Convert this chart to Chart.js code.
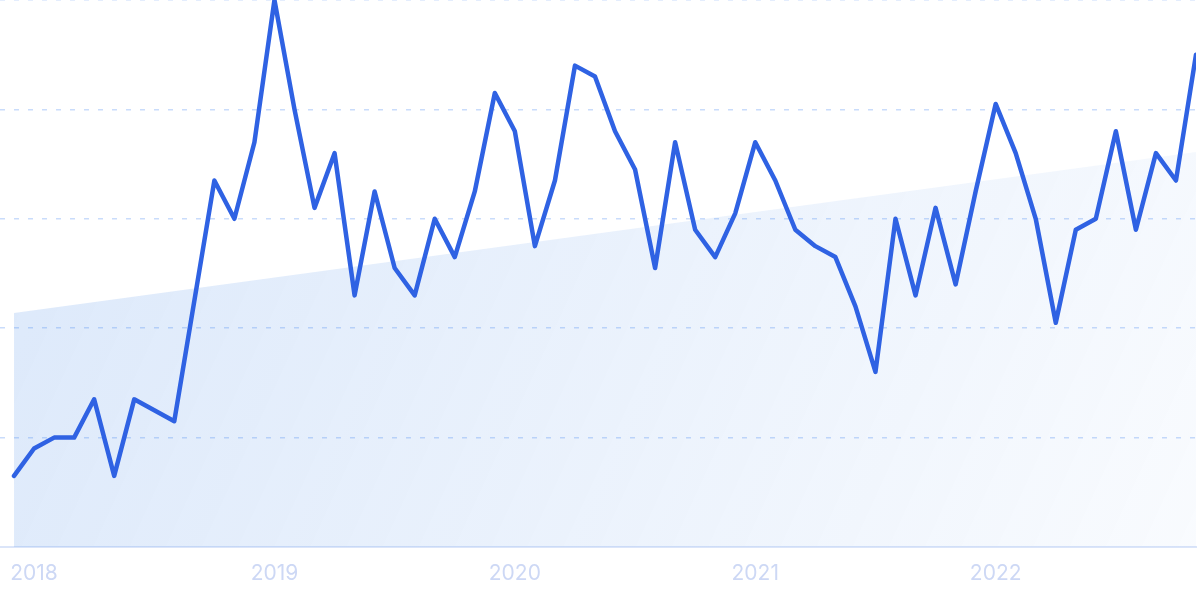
<!DOCTYPE html>
<html>
<head>
<meta charset="utf-8">
<script src="https://cdn.jsdelivr.net/npm/chart.js@4"></script>
<style>
  html, body { margin: 0; padding: 0; background: #fff; }
  #wrap { width: 1200px; height: 600px; position: relative; }
</style>
</head>
<body>
<div id="wrap"><canvas id="chart"></canvas></div>
<script>
// monthly points, Dec 2017 .. Nov 2022
const months = [
    '2017-12',
    '2018-01', '2018-02', '2018-03', '2018-04', '2018-05', '2018-06', '2018-07', '2018-08', '2018-09', '2018-10', '2018-11', '2018-12',
    '2019-01', '2019-02', '2019-03', '2019-04', '2019-05', '2019-06', '2019-07', '2019-08', '2019-09', '2019-10', '2019-11', '2019-12',
    '2020-01', '2020-02', '2020-03', '2020-04', '2020-05', '2020-06', '2020-07', '2020-08', '2020-09', '2020-10', '2020-11', '2020-12',
    '2021-01', '2021-02', '2021-03', '2021-04', '2021-05', '2021-06', '2021-07', '2021-08', '2021-09', '2021-10', '2021-11', '2021-12',
    '2022-01', '2022-02', '2022-03', '2022-04', '2022-05', '2022-06', '2022-07', '2022-08', '2022-09', '2022-10', '2022-11'
];

const interest = [
    13,
    18, 20, 20, 27, 13, 27, 25, 23, 45, 67, 60, 74,
    100, 80, 62, 72, 46, 65, 51, 46, 60, 53, 65, 83,
    76, 55, 67, 88, 86, 76, 69, 51, 74, 58, 53, 61,
    74, 67, 58, 55, 53, 44, 32, 60, 46, 62, 48, 65,
    81, 72, 60, 41, 58, 60, 76, 58, 72, 67, 90
];

// linear trend, start and end values
const trendStart = 42.8;
const trendEnd = 72.2;

const yTicks = [0, 20, 40, 60, 80, 100];

const lineData = interest.map((v, i) => ({ x: i, y: v }));
const trendData = [
    { x: 0, y: trendStart },
    { x: months.length - 1, y: trendEnd }
];

function trendFill(context) {
    const chart = context.chart;
    const area = chart.chartArea;
    if (!area) return 'rgba(59,130,230,0.15)';
    const g = chart.ctx.createLinearGradient(area.left, area.top, area.right, area.bottom);
    g.addColorStop(0, 'rgba(59,130,230,0.19)');
    g.addColorStop(1, 'rgba(59,130,230,0.03)');
    return g;
}

new Chart(document.getElementById('chart'), {
    type: 'line',
    data: {
        datasets: [{
            label: 'Interest',
            data: lineData,
            borderColor: '#2f62e3',
            borderWidth: 4.5,
            pointRadius: 0,
            tension: 0,
            borderJoinStyle: 'round',
            borderCapStyle: 'round',
            fill: false,
            order: 0
        }, {
            label: 'Trend',
            data: trendData,
            borderWidth: 0,
            borderColor: 'rgba(0,0,0,0)',
            pointRadius: 0,
            backgroundColor: trendFill,
            fill: 'origin',
            order: 1
        }]
    },
    options: {
        responsive: true,
        maintainAspectRatio: false,
        animation: false,
        layout: { padding: { left: 0, right: 4, top: 0, bottom: 0 } },
        plugins: {
            legend: { display: false },
            tooltip: { enabled: false }
        },
        scales: {
            x: {
                type: 'linear',
                min: -0.7,
                max: months.length - 1,
                afterBuildTicks: (scale) => {
                    scale.ticks = months
                        .map((m, i) => ({ value: i, m }))
                        .filter(t => t.m.endsWith('-01'))
                        .map(t => ({ value: t.value }));
                },
                afterFit: (scale) => {
                    scale.height = 53;
                    scale.paddingLeft = 0;
                    scale.paddingRight = 0;
                },
                ticks: {
                    autoSkip: false,
                    maxRotation: 0,
                    padding: 14,
                    color: '#cdd8f5',
                    font: { family: 'Inter', size: 21 },
                    callback: (value) => months[value].slice(0, 4)
                },
                grid: { display: false, drawTicks: false },
                border: { display: true, color: '#dbe5f9', width: 2 }
            },
            y: {
                min: 0,
                max: 100,
                afterBuildTicks: (scale) => {
                    scale.ticks = yTicks.map(v => ({ value: v }));
                },
                ticks: { display: false },
                grid: { color: '#c9dcfb', lineWidth: 1.5, drawTicks: false },
                border: { display: false, dash: [5, 9] }
            }
        }
    }
});
</script>
</body>
</html>
